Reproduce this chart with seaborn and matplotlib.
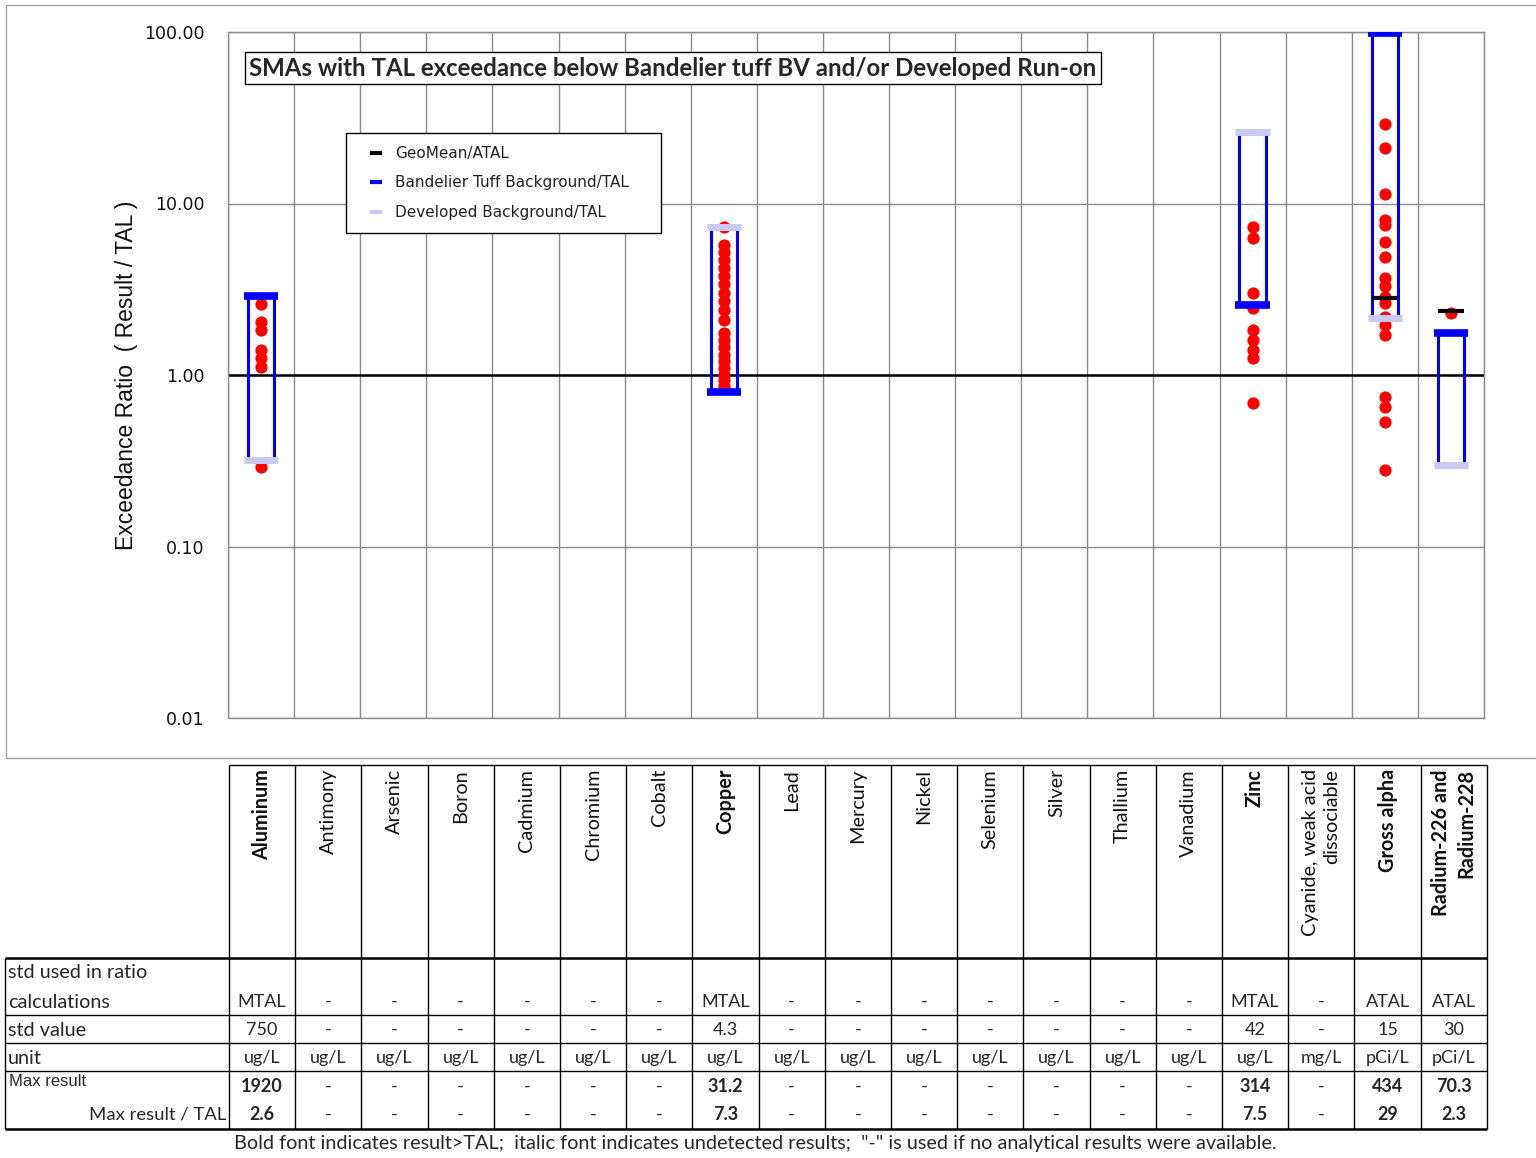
import matplotlib
matplotlib.use("Agg")
import matplotlib.pyplot as plt
import numpy as np
import pandas as pd
import seaborn as sns
from matplotlib.lines import Line2D
from matplotlib.patches import Rectangle
from matplotlib.ticker import FixedLocator, FuncFormatter, NullLocator

# ---- data -------------------------------------------------------------
analytes = ["Aluminum", "Antimony", "Arsenic", "Boron", "Cadmium", "Chromium", "Cobalt",
            "Copper", "Lead", "Mercury", "Nickel", "Selenium", "Silver", "Thallium",
            "Vanadium", "Zinc", "Cyanide, weak acid\ndissociable", "Gross alpha",
            "Radium-226 and\nRadium-228"]

al_ratios = [2.6, 2.04, 1.83, 1.40, 1.26, 1.11, 0.29]
cu_ratios = [7.3, 5.7, 5.2, 4.7, 4.2, 3.8, 3.4, 3.0, 2.7, 2.4, 2.1,
             1.75, 1.6, 1.45, 1.3, 1.2, 1.1, 1.0, 0.93, 0.86]
zn_ratios = [7.3, 6.3, 3.0, 2.46, 1.83, 1.60, 1.40, 1.26, 0.69]
ga_ratios = [29.1, 21.1, 11.4, 8.0, 7.5, 6.0, 4.9, 3.7, 3.3, 2.85, 2.63,
             2.18, 1.96, 1.71, 0.74, 0.65, 0.53, 0.28]
ra_ratios = [2.3]

bandelier_bg = {"Aluminum": 2.9, "Copper": 0.80, "Zinc": 2.56, "Gross alpha": 99.0,
                "Radium-226 and\nRadium-228": 1.76}
developed_bg = {"Aluminum": 0.32, "Copper": 7.3, "Zinc": 26.0, "Gross alpha": 2.15,
                "Radium-226 and\nRadium-228": 0.30}
geomean = {"Gross alpha": 2.8, "Radium-226 and\nRadium-228": 2.36}

exceed = ["Aluminum", "Copper", "Zinc", "Gross alpha", "Radium-226 and\nRadium-228"]

std_used = ["MTAL", "-", "-", "-", "-", "-", "-", "MTAL", "-", "-", "-", "-", "-", "-", "-",
            "MTAL", "-", "ATAL", "ATAL"]
std_value = ["750", "-", "-", "-", "-", "-", "-", "4.3", "-", "-", "-", "-", "-", "-", "-",
             "42", "-", "15", "30"]
units = ["ug/L"] * 16 + ["mg/L", "pCi/L", "pCi/L"]
max_result = ["1920", "-", "-", "-", "-", "-", "-", "31.2", "-", "-", "-", "-", "-", "-", "-",
              "314", "-", "434", "70.3"]
max_ratio = ["2.6", "-", "-", "-", "-", "-", "-", "7.3", "-", "-", "-", "-", "-", "-", "-",
             "7.5", "-", "29", "2.3"]

results = {"Aluminum": al_ratios, "Copper": cu_ratios, "Zinc": zn_ratios,
           "Gross alpha": ga_ratios, "Radium-226 and\nRadium-228": ra_ratios}
df = pd.DataFrame([(k, v) for k, vals in results.items() for v in vals], columns=["analyte", "ratio"])

# ---- style ------------------------------------------------------------
sns.set_style("white")
plt.rcParams["font.family"] = ["DejaVu Sans"]
CAL = ["Lato", "DejaVu Sans"]
BLUE = "#0000FF"
LAV = "#C9C9F2"
GRID = "#8C8C8C"

W, H = 1536, 1158
fig = plt.figure(figsize=(W / 100, H / 100), dpi=100)

# overlay in pixel coordinates for the frame and the table
ov = fig.add_axes([0, 0, 1, 1], zorder=0)
ov.set_xlim(0, W)
ov.set_ylim(H, 0)
ov.axis("off")
ov.add_patch(Rectangle((6, 5), 1545, 753, fill=False, edgecolor="#A0A0A0", lw=1))

# ---- main chart -------------------------------------------------------
ax = fig.add_axes([228 / W, 1 - 718 / H, (1484 - 228) / W, (718 - 32) / H], zorder=2)
ax.patch.set_alpha(0)
sns.stripplot(data=df, x="analyte", y="ratio", order=analytes, jitter=False,
              color="red", size=8.8, linewidth=0, ax=ax, zorder=3)
ax.set_yscale("log")
ax.set_ylim(0.01, 100)
ax.set_xlim(-0.5, len(analytes) - 0.5)

pos = {a: i for i, a in enumerate(analytes)}
for a, top in bandelier_bg.items():
    i = pos[a]
    low = developed_bg[a]
    ax.vlines([i - 0.2, i + 0.2], min(top, low), max(top, low), color=BLUE, lw=2.2, zorder=4)
for a, v in developed_bg.items():
    i = pos[a]
    ax.hlines(v, i - 0.26, i + 0.26, color=LAV, lw=5, zorder=5)
for a, v in bandelier_bg.items():
    i = pos[a]
    ax.hlines(v, i - 0.26, i + 0.26, color=BLUE, lw=5.5, zorder=6)
for a, v in geomean.items():
    i = pos[a]
    ax.hlines(v, i - 0.19, i + 0.19, color="black", lw=3, zorder=7)

ax.axhline(1, color="black", lw=1.8, zorder=2)
ax.yaxis.set_major_locator(FixedLocator([0.01, 0.1, 1, 10, 100]))
ax.yaxis.set_minor_locator(NullLocator())
ax.yaxis.set_major_formatter(FuncFormatter(lambda v, p: f"{v:.2f}"))
ax.set_xticks(np.arange(-0.5, len(analytes), 1), minor=True)
ax.set_xticks([])
ax.grid(which="minor", axis="x", color=GRID, lw=1)
ax.grid(which="major", axis="y", color=GRID, lw=1)
ax.tick_params(axis="y", labelsize=12.5, length=4, color=GRID, pad=13, labelcolor="#111111")
for s in ax.spines.values():
    s.set_color(GRID)
    s.set_linewidth(1)
ax.set_xlabel("")
ax.set_ylabel("Exceedance Ratio  ( Result / TAL )", fontsize=16.5, family="Liberation Sans",
              color="#111111")
ax.yaxis.set_label_coords((138 - 228) / (1484 - 228), 0.5)

fig.text(673, 68, "SMAs with TAL exceedance below Bandelier tuff BV and/or Developed Run-on",
         transform=ov.transData, ha="center", va="center", fontsize=17.3, fontweight="bold",
         family=CAL, zorder=10,
         bbox=dict(boxstyle="square,pad=0.2", fc="white", ec="black", lw=1))

handles = [Line2D([], [], color="black", marker="_", ls="none", markersize=9, mew=3),
           Line2D([], [], color=BLUE, marker="_", ls="none", markersize=9, mew=3),
           Line2D([], [], color=LAV, marker="_", ls="none", markersize=9, mew=3)]
leg = ax.legend(handles, ["GeoMean/ATAL", "Bandelier Tuff Background/TAL    ", "Developed Background/TAL"],
                loc="upper left", bbox_to_anchor=(346 / W, 1 - 133 / H), bbox_transform=fig.transFigure,
                borderaxespad=0, fontsize=11, handlelength=2.2, handletextpad=0.15,
                labelspacing=0.95, borderpad=0.85, fancybox=False, framealpha=1,
                edgecolor="black")
leg.get_frame().set_linewidth(1)
leg.set_zorder(10)
for t in leg.get_texts():
    t.set_color("#222222")

# ---- table ------------------------------------------------------------
x0, cw = 229, 66.2
xr = x0 + cw * len(analytes)
top, hb = 765, 958
rows = [1015, 1043, 1071, 1129]
ov.hlines(top, x0, xr, color="black", lw=1)
ov.hlines(hb, 5, xr, color="black", lw=1.8)
ov.hlines(rows[:-1], 5, xr, color="black", lw=1)
ov.hlines(rows[-1], 5, xr, color="black", lw=1.8)
ov.vlines([x0 + cw * k for k in range(len(analytes) + 1)], top, rows[-1], color="black", lw=1)
ov.vlines(5, hb, rows[-1], color="black", lw=1)

for i, a in enumerate(analytes):
    cx = x0 + cw * (i + 0.5)
    fw = "bold" if a in exceed else "normal"
    ov.text(cx, 769, a, rotation=90, ha="center", va="top", fontsize=14.3, family=CAL,
            fontweight=fw, color="#111111", multialignment="right", linespacing=1.3)
    ov.text(cx, 1002, std_used[i], ha="center", va="center", fontsize=13, family=CAL)
    ov.text(cx, 1030, std_value[i], ha="center", va="center", fontsize=13, family=CAL)
    ov.text(cx, 1058, units[i], ha="center", va="center", fontsize=13, family=CAL)
    ov.text(cx, 1087, max_result[i], ha="center", va="center", fontsize=13, family=CAL, fontweight=fw)
    ov.text(cx, 1115, max_ratio[i], ha="center", va="center", fontsize=13, family=CAL, fontweight=fw)

ov.text(8, 973, "std used in ratio", ha="left", va="center", fontsize=14.3, family=CAL)
ov.text(8, 1002, "calculations", ha="left", va="center", fontsize=14.3, family=CAL)
ov.text(8, 1030, "std value", ha="left", va="center", fontsize=14.3, family=CAL)
ov.text(8, 1058, "unit", ha="left", va="center", fontsize=14.3, family=CAL)
ov.text(9, 1082, "Max result", ha="left", va="center", fontsize=12, family="Liberation Sans")
ov.text(226, 1115, "Max result / TAL", ha="right", va="center", fontsize=13.3, family=CAL)
ov.text(755, 1144, 'Bold font indicates result>TAL;  italic font indicates undetected results;  '
        '"-" is used if no analytical results were available.', ha="center", va="center",
        fontsize=14.3, family=CAL)

fig.savefig("out.png", dpi=100)
